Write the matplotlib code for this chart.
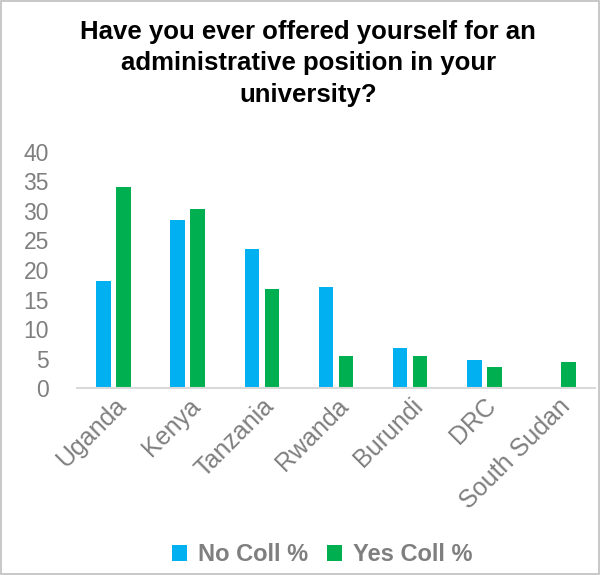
import matplotlib.pyplot as plt
import numpy as np
from matplotlib.patches import Rectangle

# Country-level responses (%)
countries = ["Uganda", "Kenya", "Tanzania", "Rwanda", "Burundi", "DRC", "South Sudan"]
no_coll = [18.2, 28.5, 23.5, 17.2, 6.8, 4.8, 0]
yes_coll = [34.1, 30.4, 16.7, 5.4, 5.4, 3.6, 4.5]

blue = "#00B0F0"
green = "#00B050"
grey = "#7F7F7F"

plt.rcParams["font.family"] = ["Liberation Sans", "DejaVu Sans"]

fig = plt.figure(figsize=(6, 5.75), dpi=100)
ax = fig.add_axes([0.128, 0.325, 0.864, 0.411])

x = np.arange(len(countries))
w = 0.2
gap = 0.07
ax.bar(x - (w + gap) / 2, no_coll, w, color=blue, label="No Coll %")
ax.bar(x + (w + gap) / 2, yes_coll, w, color=green, label="Yes Coll %")

ax.set_xlim(-0.5, len(countries) - 0.5)
ax.set_ylim(0, 40)
ax.set_yticks(range(0, 41, 5))
ax.tick_params(axis="y", length=0, labelsize=16.5, labelcolor=grey, pad=20)
ax.tick_params(axis="x", length=0, labelsize=18, labelcolor=grey, pad=4)
ax.set_xticks(x)
ax.set_xticklabels(countries, rotation=45, ha="right", rotation_mode="anchor")

for s in ["top", "right", "left"]:
    ax.spines[s].set_visible(False)
ax.spines["bottom"].set_color("#D9D9D9")
ax.spines["bottom"].set_linewidth(1.5)

fig.text(0.514, 0.966, "Have you ever offered yourself for an\nadministrative position in your\nuniversity?",
         ha="center", va="top", fontsize=18.5, fontweight="bold", color="black", linespacing=1.4)

fig.legend(loc="lower center", bbox_to_anchor=(0.537, -0.022), ncol=2, frameon=False,
           labelcolor=grey, handlelength=0.65, handleheight=0.65,
           handletextpad=0.45, columnspacing=0.8, prop={"weight": "bold", "size": 17})

# thin frame around the whole figure
fig.patches.append(Rectangle((0.002, 0.002), 0.996, 0.996, transform=fig.transFigure,
                             fill=False, edgecolor="#BFBFBF", linewidth=1.2))

fig.savefig("out.png", dpi=100)
